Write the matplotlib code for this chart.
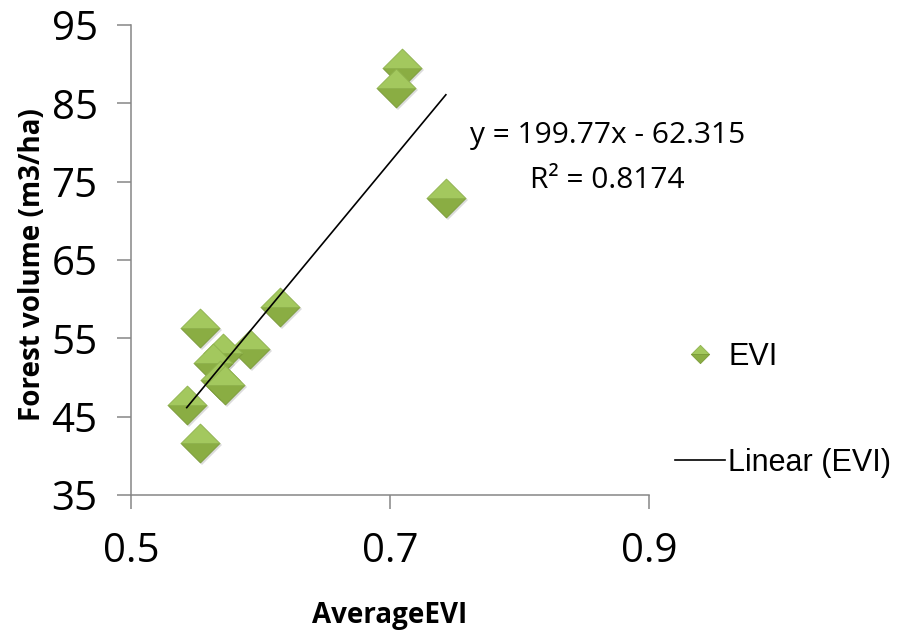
import matplotlib
matplotlib.use("Agg")
import matplotlib.pyplot as plt
import matplotlib.transforms as mtransforms
from matplotlib.path import Path

# data
avg_evi = [0.5534, 0.6153, 0.5920, 0.5710, 0.5635, 0.5689, 0.5725, 0.5430, 0.5534, 0.7094, 0.7043, 0.7429]
volume = [56.3, 59.0, 53.7, 53.1, 51.8, 49.7, 49.0, 46.5, 41.6, 89.5, 86.9, 72.9]

# trend line from the chart label
slope = 199.77
intercept = -62.315
r2 = 0.8174

x_ticks = [0.5, 0.7, 0.9]
y_ticks = [35, 45, 55, 65, 75, 85, 95]

calibri_like = "Open Sans"
arial_like = "Liberation Sans"

fig = plt.figure(figsize=(9.04, 6.31), dpi=100)
ax = fig.add_axes([131 / 904, 1 - 495 / 631, (649.5 - 131) / 904, (495 - 25) / 631])

# two-tone diamond (pyramid look): upper and lower halves
upper = Path([(-1, 0), (0, 1), (1, 0), (-1, 0)], [Path.MOVETO, Path.LINETO, Path.LINETO, Path.CLOSEPOLY])
lower = Path([(-1, 0), (0, -1), (1, 0), (-1, 0)], [Path.MOVETO, Path.LINETO, Path.LINETO, Path.CLOSEPOLY])

shadow = mtransforms.offset_copy(ax.transData, fig=fig, x=2, y=-2, units="dots")
ax.plot(avg_evi, volume, ls="none", marker="D", ms=20, color="#bbbbbb", alpha=0.5,
        markeredgewidth=0, transform=shadow, zorder=2)

for xi, yi in zip(avg_evi, volume):
    ax.plot([xi], [yi], ls="none", marker=lower, ms=28, color="#8aad43",
            markeredgecolor="#7a9a38", markeredgewidth=0.6, zorder=3)
    ax.plot([xi], [yi], ls="none", marker=upper, ms=28, color="#a3c85e",
            markeredgecolor="#8fb24d", markeredgewidth=0.6, zorder=3)

# legend handles (not drawn on the axes)
leg_up, = ax.plot([], [], ls="none", marker=upper, ms=28, color="#a3c85e",
                  markeredgecolor="#8fb24d", markeredgewidth=0.6)
leg_low, = ax.plot([], [], ls="none", marker=lower, ms=28, color="#8aad43",
                   markeredgecolor="#7a9a38", markeredgewidth=0.6)

x0, x1 = min(avg_evi), max(avg_evi)
trend, = ax.plot([x0, x1], [slope * x0 + intercept, slope * x1 + intercept],
                 color="black", lw=1.2, zorder=4)

ax.set_xlim(0.5, 0.9)
ax.set_ylim(35, 95)
ax.set_xticks(x_ticks)
ax.set_yticks(y_ticks)
ax.set_xticklabels([str(t) for t in x_ticks], fontsize=29, family=calibri_like)
ax.set_yticklabels([str(t) for t in y_ticks], fontsize=29, family=calibri_like)

for side in ["top", "right"]:
    ax.spines[side].set_visible(False)
for side in ["left", "bottom"]:
    ax.spines[side].set_color("#868686")
    ax.spines[side].set_linewidth(1.1)
ax.tick_params(axis="both", direction="out", length=10, width=1.1, color="#868686")
ax.tick_params(axis="y", pad=14)
ax.tick_params(axis="x", pad=16)

fig.text(390 / 904, 1 - 616 / 631, "AverageEVI", ha="center", va="center",
         fontsize=20, fontweight="bold", family=calibri_like)
fig.text(33 / 904, 1 - 265 / 631, "Forest volume (m3/ha)", ha="center", va="center",
         rotation=90, fontsize=20, fontweight="bold", family=calibri_like)

fig.text(608 / 904, 1 - 135 / 631, "y = %.2fx - %.3f" % (slope, -intercept),
         ha="center", va="center", fontsize=21.5, family=calibri_like)
fig.text(607 / 904, 1 - 180 / 631, "R² = %.4f" % r2,
         ha="center", va="center", fontsize=21.5, family=calibri_like)

leg = fig.legend([(leg_up, leg_low), trend], ["EVI", "Linear (EVI)"],
                 loc="center left", bbox_to_anchor=(675 / 904, 1 - 410 / 631),
                 frameon=False, markerscale=0.47, numpoints=1,
                 handlelength=1.63, handletextpad=0.12, labelspacing=2.48,
                 prop={"family": arial_like, "size": 22}, borderpad=0, borderaxespad=0)

fig.savefig("out.png", dpi=100)
